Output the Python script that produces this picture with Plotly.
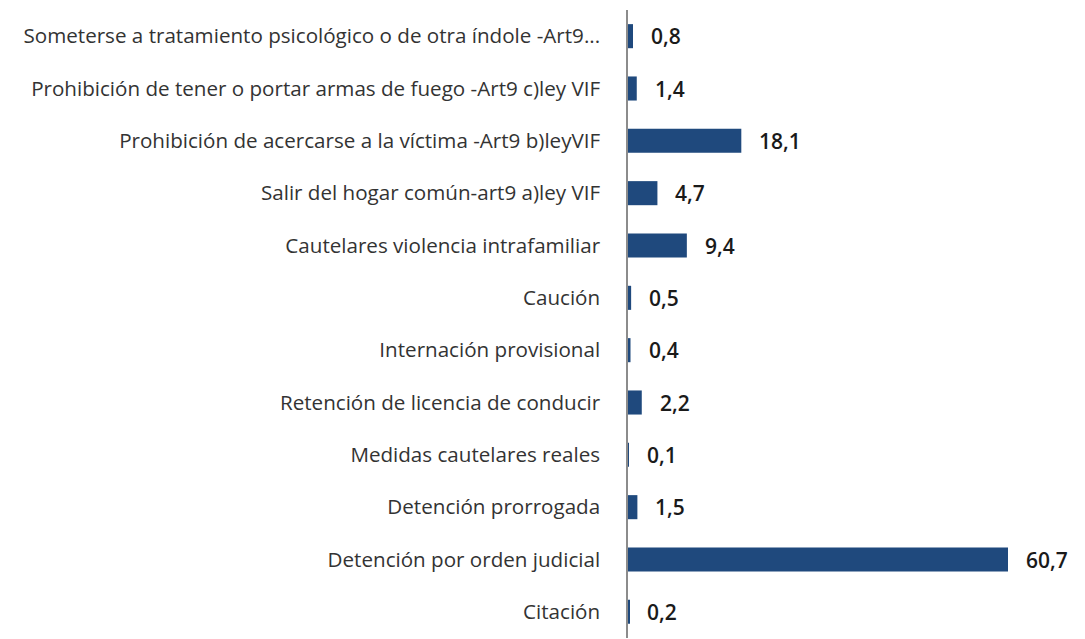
import plotly.graph_objects as go

categories = [
    "Someterse a tratamiento psicológico o de otra índole -Art9...",
    "Prohibición de tener o portar armas de fuego -Art9 c)ley VIF",
    "Prohibición de acercarse a la víctima -Art9 b)leyVIF",
    "Salir del hogar común-art9 a)ley VIF",
    "Cautelares violencia intrafamiliar",
    "Caución",
    "Internación provisional",
    "Retención de licencia de conducir",
    "Medidas cautelares reales",
    "Detención prorrogada",
    "Detención por orden judicial",
    "Citación",
]
values = [0.8, 1.4, 18.1, 4.7, 9.4, 0.5, 0.4, 2.2, 0.1, 1.5, 60.7, 0.2]
labels = [f"{v:.1f}".replace(".", ",") for v in values]

fig = go.Figure(go.Bar(
    x=values, y=categories, orientation="h",
    marker=dict(color="#1F497D", line=dict(width=0)),
    hoverinfo="skip",
))

for c, v, t in zip(categories, values, labels):
    fig.add_annotation(x=v, y=c, text=t, showarrow=False, xanchor="left",
                       xshift=16,
                       font=dict(family="Open Sans", size=21, color="#1a1a1a", weight=600))

fig.update_layout(
    width=1085, height=639,
    margin=dict(l=620, r=8, t=2, b=9, autoexpand=False),
    paper_bgcolor="white", plot_bgcolor="white",
    bargap=0.54,
    showlegend=False,
    font=dict(family="Open Sans", size=20.6, color="#333333"),
    xaxis=dict(range=[0, 73], visible=False, showgrid=False, zeroline=False),
    yaxis=dict(autorange="reversed", showline=True, linecolor="#8c8c8c", linewidth=1.5,
               ticks="", showgrid=False, ticklabelstandoff=22,
               tickfont=dict(family="Open Sans", size=20.6, color="#333333")),
)

fig.write_html("out.html")
